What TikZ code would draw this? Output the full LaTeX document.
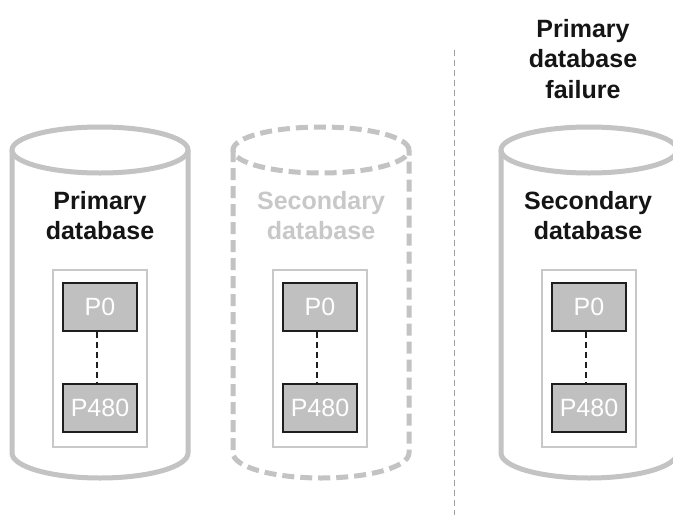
\documentclass[tikz,border=0pt]{standalone}
\usepackage{fontspec}
\setmainfont{Liberation Sans}
\begin{document}
\begin{tikzpicture}[x=1pt,y=-1pt,
  cylline/.style={draw=cylgray,line width=5pt},
  cylfaded/.style={cylline,dash pattern=on 12pt off 6pt},
  holder/.style={draw=holdgray,line width=1.5pt},
  part/.style={draw=partedge,fill=partfill,line width=1.6pt,
    minimum width=74pt,minimum height=48pt,inner sep=0pt,
    text=white,font=\fontsize{25}{30}\selectfont},
  partlink/.style={draw=partedge,line width=2pt,dash pattern=on 6pt off 4pt},
  label/.style={inner sep=0pt,anchor=north,align=center,
    font=\fontsize{25}{30.5}\selectfont\bfseries},
  separator/.style={draw=sepgray,line width=1pt,dash pattern=on 6pt off 4pt}]
\definecolor{cylgray}{HTML}{C3C3C3}
\definecolor{holdgray}{HTML}{C8C8C8}
\definecolor{partfill}{HTML}{C0C0C0}
\definecolor{partedge}{HTML}{1E1E1E}
\definecolor{sepgray}{HTML}{A0A0A0}
\definecolor{inktext}{HTML}{151515}
\definecolor{fadedtext}{HTML}{C8C8C8}
\clip (0,0) rectangle (673,515);
\fill[white] (0,0) rectangle (673,515);

% cylinders: side walls with rounded base, then the lid
\foreach \cx/\sty in {100/cylline,321/cylfaded,589/cylline}{
  \path[\sty] (\cx-88,150) -- (\cx-88,453)
     arc[start angle=180,end angle=360,x radius=88pt,y radius=25pt]
     -- (\cx+88,150);
  \path[\sty] (\cx,150) ellipse[x radius=88pt,y radius=23pt];
}

% partition holders and partitions
\foreach \cx/\n in {100/a,320/b,589/c}{
  \path[holder] (\cx-47,270) rectangle (\cx+47,447);
  \node[part] (p0\n) at (\cx,307) {P0};
  \node[part] (p480\n) at (\cx,408) {P480};
  \draw[partlink] ([xshift=-3.5pt]p0\n.south) -- ([xshift=-3.5pt]p480\n.north);
}

% labels
\node[label,text=inktext] (lprim) at (100,191) {Primary\\database};
\node[label,text=fadedtext] (lsec) at (321,191) {Secondary\\database};
\node[label,text=inktext] (lsecnew) at (588,191) {Secondary\\database};
\node[label,text=inktext] (lfail) at (583,19) {Primary\\database\\failure};

% separator between the two states
\coordinate (septop) at (454,50);
\coordinate (sepbot) at (454,515);
\draw[separator] (septop) -- (sepbot);
\end{tikzpicture}
\end{document}
